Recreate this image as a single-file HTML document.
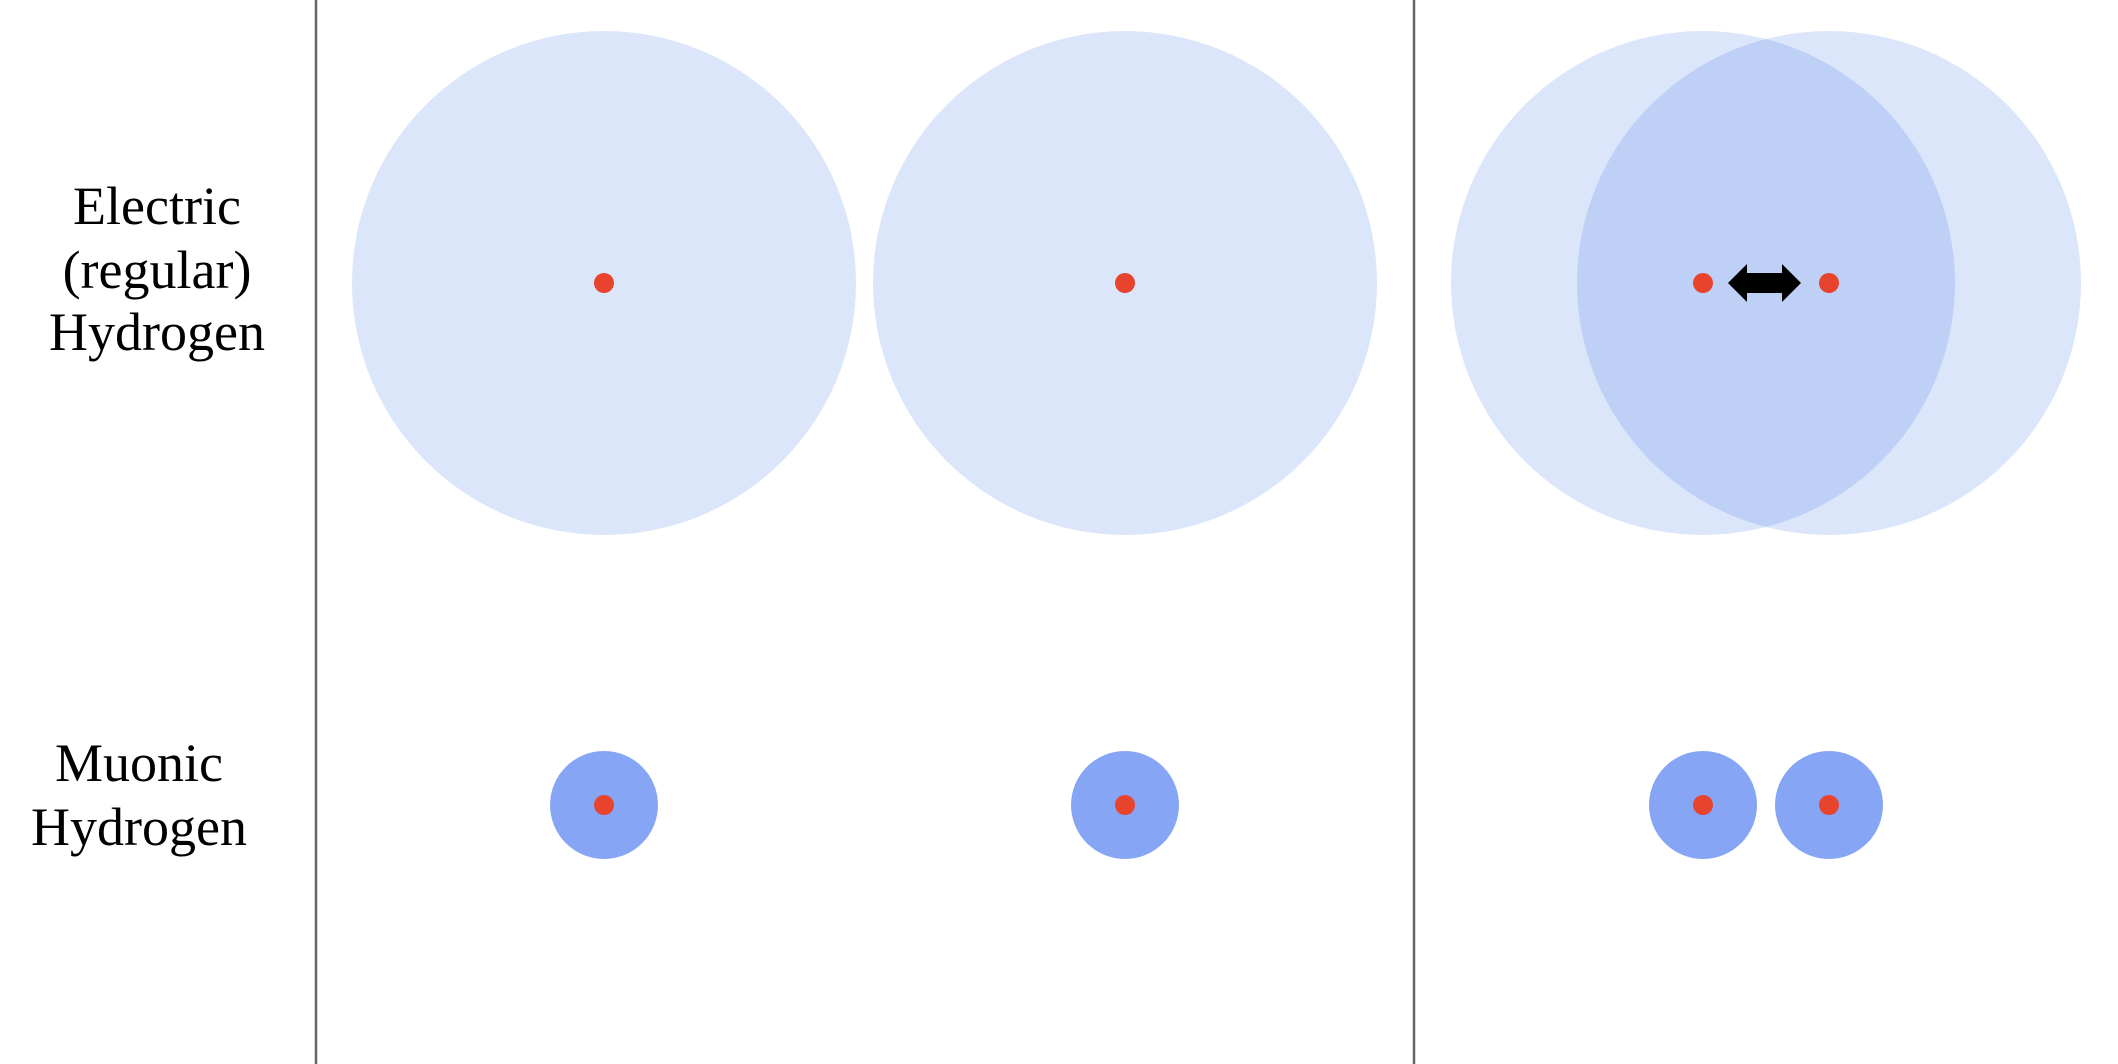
<!DOCTYPE html>
<html><head><meta charset="utf-8"><style>
html,body{margin:0;padding:0;background:#fff;width:2118px;height:1064px;overflow:hidden}
svg{display:block}
text{font-family:"Liberation Serif",serif;font-size:54px;fill:#000}
</style></head><body>
<svg width="2118" height="1064">
<line x1="316" y1="0" x2="316" y2="1064" stroke="#666" stroke-width="2.5"/>
<line x1="1414" y1="0" x2="1414" y2="1064" stroke="#666" stroke-width="2.5"/>
<text text-anchor="middle"><tspan x="157" y="224">Electric</tspan><tspan x="157" y="288">(regular)</tspan><tspan x="157" y="350">Hydrogen</tspan></text>
<text text-anchor="middle"><tspan x="139" y="781">Muonic</tspan><tspan x="139" y="845">Hydrogen</tspan></text>
<defs><clipPath id="clipL"><circle id="clipCircle" cx="1703" cy="283" r="252"/></clipPath></defs>
<g id="marks"></g>
</svg>
<script>
const atomXs=[604,1125,1703,1829];
const electricR=[252,252,252,252];
const muonicR=[54,54,54,54];
const rowY=[283,805];
const NS='http://www.w3.org/2000/svg';
const g=document.getElementById('marks');
function c(x,y,r,fill,name,parent){const e=document.createElementNS(NS,'circle');e.setAttribute('cx',x);e.setAttribute('cy',y);e.setAttribute('r',r);e.setAttribute('fill',fill);


(parent||g).appendChild(e);return e;}
atomXs.forEach((x,i)=>c(x,rowY[0],electricR[i],'#dce6fa','electron-cloud-electric'));
const cc=document.getElementById('clipCircle');
cc.setAttribute('cx',atomXs[2]);cc.setAttribute('r',electricR[2]);
const og=document.createElementNS(NS,'g');og.setAttribute('clip-path','url(#clipL)');


g.appendChild(og);
c(atomXs[3],rowY[0],electricR[3],'#bfd0f7','overlap-region',og);
atomXs.forEach((x,i)=>c(x,rowY[1],muonicR[i],'#86a6f5','muon-cloud'));
atomXs.forEach((x)=>{c(x,rowY[0],10,'#e8432d','proton-electric');c(x,rowY[1],10,'#e8432d','proton-muonic');});
const a=document.createElementNS(NS,'polygon');
const x1=1728,x2=1801,y=283;
a.setAttribute('points',`${x1},${y} ${x1+19},${y-19} ${x1+19},${y-10} ${x2-19},${y-10} ${x2-19},${y-19} ${x2},${y} ${x2-19},${y+19} ${x2-19},${y+10} ${x1+19},${y+10} ${x1+19},${y+19}`);
a.setAttribute('fill','#000');


g.appendChild(a);
</script>
</body></html>
